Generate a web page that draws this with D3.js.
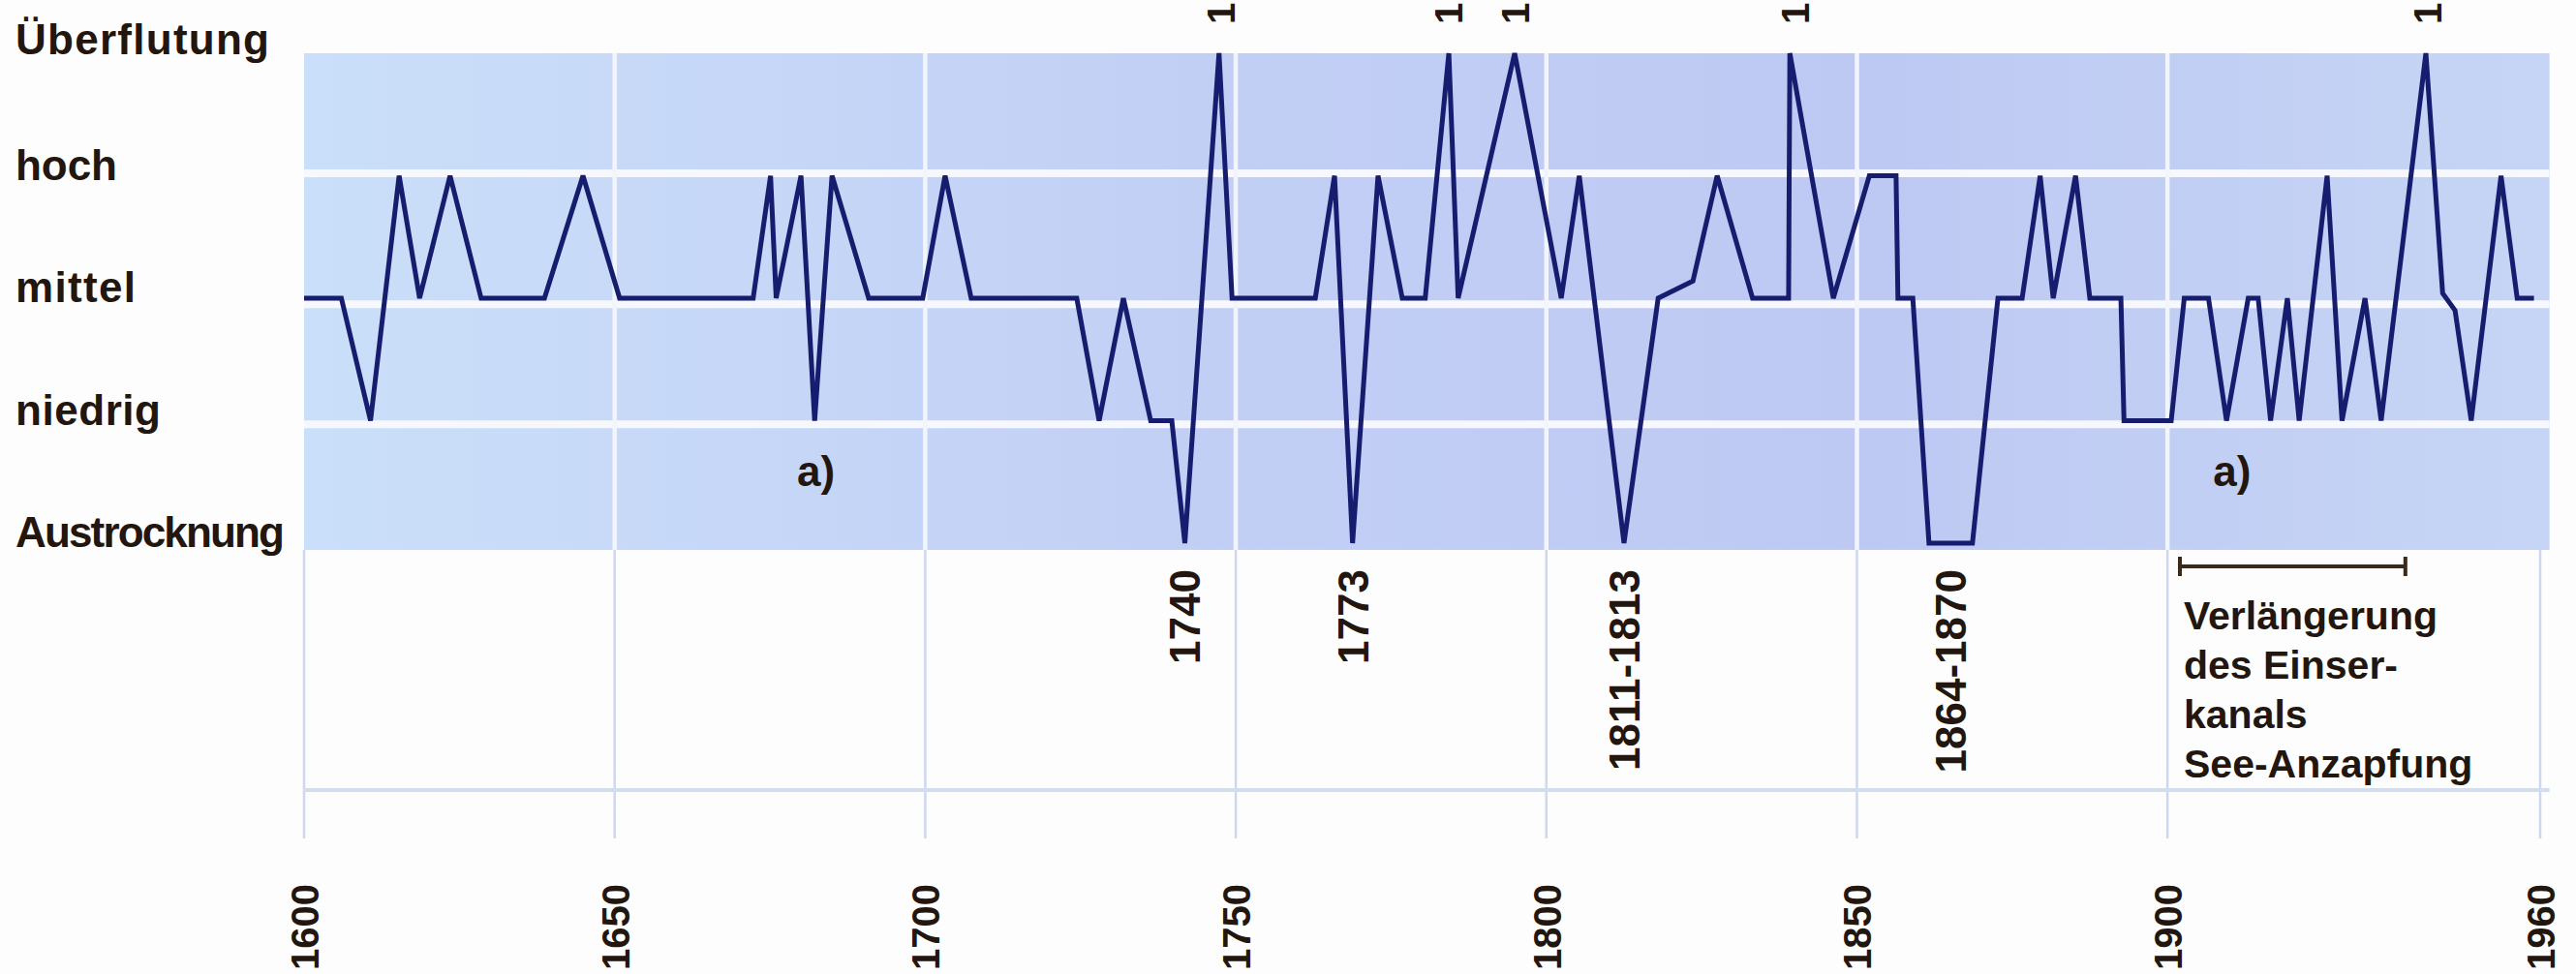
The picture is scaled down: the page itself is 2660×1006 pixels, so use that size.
<!DOCTYPE html>
<html>
<head>
<meta charset="utf-8">
<script src="https://cdn.jsdelivr.net/npm/d3@7"></script>
<style>
  html, body { margin: 0; padding: 0; background: #fdfdfd; }
  svg { display: block; }
  text { font-family: "Liberation Sans", Arial, Helvetica, sans-serif; fill: #22160f; }
</style>
</head>
<body>
<svg id="chart" width="2660" height="1006"></svg>
<script>
// ---- data ----
const years = [1600, 1606, 1610.7, 1615.3, 1618.6, 1623.5, 1628.5, 1638.7, 1644.9, 1650.8,
  1672.3, 1675.1, 1676, 1680, 1682.2, 1685, 1690.9, 1699.6, 1703.2, 1707.4,
  1724.4, 1728, 1731.9, 1736.3, 1739.7, 1741.8, 1747.3, 1749.4, 1762.8, 1765.9,
  1768.8, 1772.9, 1776.8, 1780.5, 1784.3, 1785.8, 1794.9, 1802.4, 1805.3, 1812.5,
  1818, 1823.6, 1827.5, 1833.2, 1839, 1839.2, 1846.2, 1852, 1856.3, 1856.6,
  1859, 1861.6, 1868.6, 1872.7, 1876.6, 1879.5, 1881.6, 1885.2, 1887.5, 1892.5,
  1893, 1900.6, 1902.7, 1906.6, 1909.5, 1913, 1914.6, 1916.6, 1919.3, 1921.2,
  1925.7, 1928.1, 1931.8, 1934.4, 1941.6, 1944.3, 1946.3, 1948.9, 1953.7, 1956.3, 1959];
const levels = [2, 2, 1, 3, 2, 3, 2, 2, 3, 2,
  2, 3, 2, 3, 1, 3, 2, 2, 3, 2,
  2, 1, 2, 1, 1, 0, 4, 2, 2, 3,
  0, 3, 2, 2, 4, 2, 4, 2, 3, 0,
  2, 2.14, 3, 2, 2, 4, 2, 3, 3, 2,
  2, 0, 0, 2, 2, 3, 2, 3, 2, 2,
  1, 1, 2, 2, 1, 2, 2, 1, 2, 1,
  3, 1, 2, 1, 4, 2.04, 1.9, 1, 3, 2, 2];

const levelNames = ["Austrocknung", "niedrig", "mittel", "hoch", "Überflutung"];
const levelValues = [0, 1, 2, 3, 4];
const bandEdges = [3.02, 1.95, 0.97];

const tickYears = [1600, 1650, 1700, 1750, 1800, 1850, 1900, 1960];
const gridYears = [1650, 1700, 1750, 1800, 1850, 1900];

const eventTexts = ["1740", "1773", "1811-1813", "1864-1870"];
const eventYears = [1741.8, 1768.8, 1812.5, 1865.0];

// flood-year labels run off the top edge of the page; only their first digit shows
const floodTexts = ["1", "1", "1", "1", "1"];
const floodYears = [1747.6, 1784.3, 1795.0, 1840.0, 1941.8];

const noteTexts = ["a)", "a)"];
const noteYears = [1682.4, 1910.4];

const bracketYears = [1902, 1938.3];
const bracketLines = ["Verlängerung", "des Einser-", "kanals", "See-Anzapfung"];

// ---- styles ----
const levelLabelWidths = [278, 150, 124, 105, 262];

// ---- scales ----
const svg = d3.select("#chart");
const x = d3.scaleLinear().domain([1600, 1960]).range([314, 2623]);
const y = d3.scaleLinear().domain([0, 4]).range([561, 55]);

const bandTop = y(4);
const bandBottom = y(-0.055);
const bandLeft = x(1600);
const bandRight = x(1961.5);

const defs = svg.append("defs");
const grad = defs.append("linearGradient").attr("id", "bandGrad")
  .attr("x1", "0%").attr("x2", "100%").attr("y1", "0%").attr("y2", "0%");
grad.append("stop").attr("offset", "0%").attr("stop-color", "#cadff9");
grad.append("stop").attr("offset", "40%").attr("stop-color", "#c2cff5");
grad.append("stop").attr("offset", "70%").attr("stop-color", "#bec9f3");
grad.append("stop").attr("offset", "100%").attr("stop-color", "#c6d5f5");

// lower grid lines (below band)
svg.append("g").selectAll("line").data(tickYears).join("line")
  .attr("x1", d => x(d)).attr("x2", d => x(d))
  .attr("y1", bandBottom).attr("y2", 866)
  .attr("stroke", "#cdd8ef").attr("stroke-width", 2.5);

svg.append("line")
  .attr("x1", bandLeft).attr("x2", bandRight)
  .attr("y1", 816).attr("y2", 816)
  .attr("stroke", "#d3ddee").attr("stroke-width", 4);

// band
svg.append("rect")
  .attr("x", bandLeft).attr("y", bandTop)
  .attr("width", bandRight - bandLeft).attr("height", bandBottom - bandTop)
  .attr("fill", "url(#bandGrad)");

svg.append("g").selectAll("line").data(bandEdges).join("line")
  .attr("x1", bandLeft).attr("x2", bandRight)
  .attr("y1", d => y(d)).attr("y2", d => y(d))
  .attr("stroke", "#f7f8fd").attr("stroke-width", 8);

svg.append("g").selectAll("line").data(gridYears).join("line")
  .attr("x1", d => x(d)).attr("x2", d => x(d))
  .attr("y1", bandTop).attr("y2", bandBottom)
  .attr("stroke", "#f3f5fc").attr("stroke-width", 4.5);

// level labels
svg.append("g").selectAll("text").data(levelValues).join("text")
  .attr("x", 16).attr("y", d => y(d) + (d === 4 ? 1 : 4))
  .attr("font-size", 44)
  .attr("font-weight", "bold")
  .attr("textLength", d => levelLabelWidths[d])
  .attr("lengthAdjust", "spacing")
  .text(d => levelNames[d]);

// data line
const pts = years.map((yr, i) => [yr, levels[i]]);
const line = d3.line().x(d => x(d[0])).y(d => y(d[1]));
svg.append("path").datum(pts)
  .attr("d", line)
  .attr("fill", "none")
  .attr("stroke", "#161c6e")
  .attr("stroke-width", 5)
  .attr("stroke-linejoin", "miter")
  .attr("stroke-miterlimit", 3);

// note labels a)
svg.append("g").selectAll("text").data(noteYears).join("text")
  .attr("x", d => x(d)).attr("y", y(0.47))
  .attr("text-anchor", "middle")
  .attr("font-size", 44)
  .attr("font-weight", "bold")
  .text((d, i) => noteTexts[i]);

// event labels (rotated, below band)
svg.append("g").selectAll("text").data(eventYears).join("text")
  .attr("transform", d => `translate(${x(d)},588) rotate(-90)`)
  .attr("text-anchor", "end")
  .attr("dy", "0.36em")
  .attr("font-size", 44)
  .attr("font-weight", "bold")
  .text((d, i) => eventTexts[i]);

// flood labels at the top edge
svg.append("g").selectAll("text").data(floodYears).join("text")
  .attr("transform", d => `translate(${x(d)},25) rotate(-90)`)
  .attr("text-anchor", "start")
  .attr("dy", "0.36em")
  .attr("font-size", 40)
  .attr("font-weight", "bold")
  .text((d, i) => floodTexts[i]);

// bracket
const by = 585;
const bg = svg.append("g").attr("stroke", "#3a2a1c").attr("stroke-width", 4);
bg.append("line").attr("x1", x(bracketYears[0])).attr("x2", x(bracketYears[1])).attr("y1", by).attr("y2", by);
bg.selectAll(".cap").data(bracketYears).join("line").attr("class", "cap")
  .attr("x1", d => x(d)).attr("x2", d => x(d)).attr("y1", by - 10).attr("y2", by + 10);

svg.append("g").selectAll("text").data(bracketLines).join("text")
  .attr("x", x(bracketYears[0]) + 4)
  .attr("y", (d, i) => 650 + i * 51)
  .attr("font-size", 41)
  .attr("font-weight", "bold")
  .text(d => d);

// x axis (rotated tick labels)
const axis = d3.axisBottom(x).tickValues(tickYears).tickSize(0).tickFormat(d3.format("d"));
const ag = svg.append("g").attr("transform", "translate(0,1002)").call(axis);
ag.select(".domain").remove();
ag.selectAll("text")
  .attr("transform", "rotate(-90)")
  .attr("x", 0).attr("y", 0).attr("dy", "0.36em")
  .attr("text-anchor", "start")
  .attr("font-size", 40)
  .attr("font-weight", "bold")
  .attr("font-family", "\"Liberation Sans\", Arial, Helvetica, sans-serif")
  .attr("fill", "#22160f");
</script>
</body>
</html>
